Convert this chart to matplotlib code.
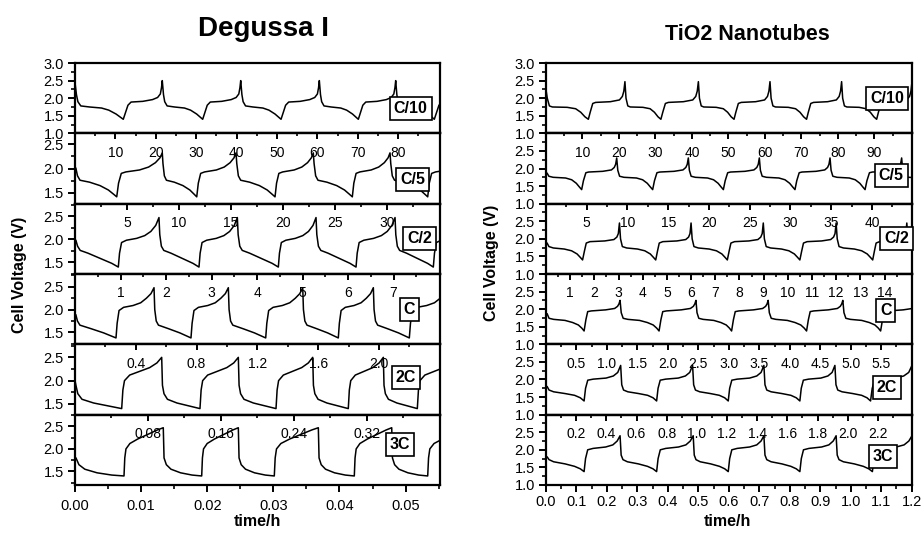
import matplotlib
matplotlib.use("Agg")
import matplotlib.pyplot as plt
from matplotlib.ticker import FormatStrFormatter, MultipleLocator

plt.rcParams["font.family"] = ["Liberation Sans", "DejaVu Sans"]

rates = ["C/10", "C/5", "C/2", "C", "2C", "3C"]

# ---------------- Degussa I ----------------
# voltage at t=0, then the turning points of each cycle (time/h)
deg_start_v = [2.44, 2.01, 1.98, 1.89, 2.00, 1.81]
deg_mins = [
    [0.00730, 0.01931, 0.03116, 0.04285, 0.05434],
    [0.00631, 0.01841, 0.03025, 0.04194, 0.05334],
    [0.00655, 0.01875, 0.03075, 0.04250, 0.05419],
    [0.00620, 0.01754, 0.02884, 0.03982, 0.05056],
    [0.00706, 0.01890, 0.03040, 0.04133, 0.05177],
    [0.00741, 0.01916, 0.03014, 0.04224, 0.05334],
]
deg_peaks = [
    [0.01320, 0.02506, 0.03695, 0.04850, 0.06019],
    [0.01320, 0.02435, 0.03604, 0.04764, 0.05929],
    [0.01270, 0.02455, 0.03645, 0.04840, 0.06004],
    [0.01195, 0.02319, 0.03444, 0.04512, 0.05641],
    [0.01311, 0.02470, 0.03595, 0.04663, 0.05747],
    [0.01335, 0.02470, 0.03680, 0.04790, 0.05974],
]
# one discharge (peak -> min) and one charge (min -> peak): (fraction of half cycle, V)
deg_discharge = [
    [(0, 2.50), (0.03, 2.10), (0.06, 1.90), (0.12, 1.78), (0.30, 1.75), (0.55, 1.72), (0.70, 1.66), (0.85, 1.55), (0.95, 1.45), (1, 1.40)],
    [(0, 2.32), (0.02, 2.10), (0.06, 1.85), (0.12, 1.76), (0.35, 1.72), (0.60, 1.65), (0.80, 1.56), (0.93, 1.47), (1, 1.42)],
    [(0, 2.47), (0.02, 2.10), (0.06, 1.85), (0.12, 1.76), (0.30, 1.70), (0.60, 1.58), (0.85, 1.48), (1, 1.40)],
    [(0, 2.48), (0.02, 2.00), (0.06, 1.75), (0.12, 1.66), (0.40, 1.58), (0.70, 1.49), (1, 1.38)],
    [(0, 2.50), (0.02, 1.90), (0.06, 1.72), (0.15, 1.60), (0.40, 1.52), (0.70, 1.46), (1, 1.40)],
    [(0, 2.47), (0.02, 1.80), (0.08, 1.65), (0.20, 1.55), (0.45, 1.47), (0.75, 1.42), (1, 1.40)],
]
deg_charge = [
    [(0, 1.40), (0.06, 1.60), (0.12, 1.80), (0.20, 1.89), (0.50, 1.91), (0.75, 1.96), (0.88, 2.02), (0.95, 2.12), (0.98, 2.30), (1, 2.50)],
    [(0, 1.42), (0.04, 1.70), (0.10, 1.90), (0.20, 1.93), (0.50, 1.97), (0.70, 2.03), (0.85, 2.12), (0.95, 2.22), (1, 2.32)],
    [(0, 1.40), (0.03, 1.70), (0.08, 1.93), (0.20, 1.98), (0.45, 2.02), (0.65, 2.08), (0.80, 2.17), (0.92, 2.30), (1, 2.47)],
    [(0, 1.38), (0.03, 1.70), (0.08, 1.98), (0.20, 2.05), (0.45, 2.09), (0.65, 2.15), (0.80, 2.25), (0.92, 2.35), (1, 2.48)],
    [(0, 1.40), (0.03, 1.80), (0.07, 2.00), (0.20, 2.12), (0.45, 2.20), (0.70, 2.28), (0.88, 2.38), (1, 2.50)],
    [(0, 1.40), (0.02, 1.80), (0.05, 2.00), (0.15, 2.12), (0.35, 2.22), (0.60, 2.32), (0.85, 2.42), (1, 2.47)],
]
# labels of the inner top scale of each panel and units of that scale per hour
deg_top = [
    [],
    ["10", "20", "30", "40", "50", "60", "70", "80"],
    ["5", "10", "15", "20", "25", "30"],
    ["1", "2", "3", "4", "5", "6", "7"],
    ["0.4", "0.8", "1.2", "1.6", "2.0"],
    ["0.08", "0.16", "0.24", "0.32"],
]
deg_top_scale = [None, 1637, 636, 145.3, 43.5, 7.25]
deg_ylim = [(1.0, 3.0), (1.28, 2.72), (1.25, 2.77), (1.24, 2.78), (1.27, 2.78), (1.2, 2.76)]
deg_box = [(0.92, 0.36), (0.925, 0.35), (0.945, 0.51), (0.916, 0.495), (0.907, 0.53), (0.89, 0.58)]

# ---------------- TiO2 nanotubes ----------------
tio_start_v = [2.24, 1.87, 1.88, 1.87, 1.80, 1.80]
tio_mins = [
    [0.139, 0.377, 0.617, 0.855, 1.085],
    [0.117, 0.350, 0.582, 0.817, 1.047, 1.283],
    [0.120, 0.360, 0.595, 0.833, 1.072, 1.303],
    [0.125, 0.371, 0.609, 0.855, 1.098],
    [0.125, 0.363, 0.598, 0.833, 1.065],
    [0.125, 0.363, 0.598, 0.833, 1.071],
]
tio_peaks = [
    [0.259, 0.500, 0.735, 0.970, 1.201],
    [0.232, 0.467, 0.700, 0.932, 1.167],
    [0.241, 0.476, 0.713, 0.952, 1.184],
    [0.243, 0.492, 0.729, 0.974, 1.221],
    [0.245, 0.481, 0.715, 0.948, 1.201],
    [0.243, 0.483, 0.715, 0.952, 1.201],
]
tio_discharge = [
    [(0, 2.47), (0.03, 2.00), (0.08, 1.78), (0.15, 1.75), (0.50, 1.74), (0.70, 1.70), (0.82, 1.60), (0.92, 1.47), (1, 1.40)],
    [(0, 2.30), (0.03, 1.95), (0.08, 1.78), (0.20, 1.75), (0.55, 1.73), (0.72, 1.68), (0.85, 1.58), (0.94, 1.47), (1, 1.40)],
    [(0, 2.45), (0.03, 2.00), (0.08, 1.78), (0.20, 1.74), (0.50, 1.71), (0.70, 1.66), (0.85, 1.57), (0.94, 1.47), (1, 1.40)],
    [(0, 2.25), (0.03, 1.90), (0.08, 1.74), (0.20, 1.71), (0.50, 1.68), (0.70, 1.62), (0.85, 1.55), (0.94, 1.46), (1, 1.38)],
    [(0, 2.40), (0.03, 1.85), (0.08, 1.70), (0.20, 1.65), (0.50, 1.60), (0.75, 1.55), (0.90, 1.48), (1, 1.39)],
    [(0, 2.40), (0.03, 1.85), (0.08, 1.72), (0.20, 1.66), (0.50, 1.60), (0.75, 1.53), (0.90, 1.46), (1, 1.38)],
]
tio_charge = [
    [(0, 1.40), (0.05, 1.60), (0.12, 1.85), (0.20, 1.88), (0.60, 1.90), (0.85, 1.95), (0.93, 2.05), (0.97, 2.20), (1, 2.47)],
    [(0, 1.40), (0.05, 1.65), (0.12, 1.88), (0.20, 1.90), (0.60, 1.92), (0.85, 1.96), (0.93, 2.03), (0.97, 2.12), (1, 2.30)],
    [(0, 1.40), (0.05, 1.65), (0.10, 1.88), (0.20, 1.92), (0.60, 1.94), (0.85, 1.98), (0.93, 2.05), (0.97, 2.15), (1, 2.45)],
    [(0, 1.38), (0.05, 1.70), (0.10, 1.93), (0.20, 1.95), (0.60, 1.98), (0.85, 2.02), (0.93, 2.08), (0.97, 2.15), (1, 2.25)],
    [(0, 1.39), (0.04, 1.75), (0.10, 1.98), (0.25, 2.01), (0.60, 2.04), (0.80, 2.10), (0.92, 2.20), (1, 2.40)],
    [(0, 1.38), (0.04, 1.75), (0.10, 2.00), (0.25, 2.04), (0.60, 2.08), (0.80, 2.14), (0.92, 2.25), (1, 2.40)],
]
tio_top = [
    [],
    ["10", "20", "30", "40", "50", "60", "70", "80", "90"],
    ["5", "10", "15", "20", "25", "30", "35", "40"],
    ["1", "2", "3", "4", "5", "6", "7", "8", "9", "10", "11", "12", "13", "14"],
    ["0.5", "1.0", "1.5", "2.0", "2.5", "3.0", "3.5", "4.0", "4.5", "5.0", "5.5"],
    ["0.2", "0.4", "0.6", "0.8", "1.0", "1.2", "1.4", "1.6", "1.8", "2.0", "2.2"],
]
tio_top_scale = [None, 83.5, 37.4, 12.6, 5.0, 2.02]
tio_ylim = [(1.0, 3.0)] * 6
tio_box = [(0.932, 0.50), (0.944, 0.40), (0.958, 0.50), (0.929, 0.475), (0.932, 0.39), (0.922, 0.40)]


def build_curve(start_v, mins, peaks, discharge, charge):
    ts, vs = [0.0], [start_v]
    t_prev = 0.0
    for i, t_min in enumerate(mins):
        dur = t_min - t_prev
        for f, v in discharge[1:]:
            if i == 0:
                v = min(v, start_v)
            ts.append(t_prev + f * dur)
            vs.append(v)
        if i < len(peaks):
            dur = peaks[i] - t_min
            for f, v in charge[1:]:
                ts.append(t_min + f * dur)
                vs.append(v)
            t_prev = peaks[i]
    return ts, vs


def draw_column(fig, left, width, data, xlim, xstep, xfmt, xpad):
    start_v, mins, peaks, dis, chg, top, scale, ylims, boxes = data
    gs = fig.add_gridspec(6, 1, left=left, right=left + width, top=0.8822, bottom=0.0935, hspace=0)
    for i in range(6):
        ax = fig.add_subplot(gs[i])
        ts, vs = build_curve(start_v[i], mins[i], peaks[i], dis[i], chg[i])
        ax.plot(ts, vs, color="black", lw=1.1, zorder=2)
        ax.set_xlim(*xlim)
        ax.set_ylim(*ylims[i])
        for sp in ax.spines.values():
            sp.set_linewidth(1.6)

        if ylims[i][0] <= 1.0:
            yt = [1.0, 1.5, 2.0, 2.5, 3.0] if i == 0 else [1.0, 1.5, 2.0, 2.5]
        else:
            yt = [1.5, 2.0, 2.5]
        ax.set_yticks(yt)
        ax.yaxis.set_major_formatter(FormatStrFormatter("%.1f"))
        ax.yaxis.set_minor_locator(MultipleLocator(0.25))
        ax.tick_params(axis="y", which="major", direction="out", length=5, width=1.4,
                       labelsize=10.5, pad=3)
        ax.tick_params(axis="y", which="minor", direction="out", length=3, width=1.2)

        if i < 5:
            ax.tick_params(axis="x", which="both", bottom=False, labelbottom=False)
        else:
            ax.xaxis.set_major_locator(MultipleLocator(xstep))
            ax.xaxis.set_minor_locator(MultipleLocator(xstep / 2))
            ax.xaxis.set_major_formatter(FormatStrFormatter(xfmt))
            ax.tick_params(axis="x", which="major", direction="out", length=5, width=1.4,
                           labelsize=10.5, pad=xpad)
            ax.tick_params(axis="x", which="minor", direction="out", length=3, width=1.2)

        if top[i]:
            s = scale[i]
            sec = ax.secondary_xaxis("top", functions=(lambda t, s=s: t * s, lambda v, s=s: v / s))
            vals = [float(v) for v in top[i]]
            step = vals[1] - vals[0]
            minors = [v - step / 2 for v in vals] + [vals[-1] + step / 2]
            sec.set_xticks(vals, labels=top[i])
            sec.set_xticks(minors, minor=True)
            sec.tick_params(axis="x", which="major", direction="in", length=4, width=1.4,
                            labelsize=10, pad=-19)
            sec.tick_params(axis="x", which="minor", direction="in", length=2.5, width=1.2)
            sec.spines["top"].set_linewidth(1.6)

        bx, by = boxes[i]
        ax.text(bx, by, rates[i], transform=ax.transAxes, ha="center", va="center",
                fontsize=11.5, fontweight="bold", zorder=5,
                bbox=dict(boxstyle="square,pad=0.25", fc="white", ec="black", lw=1.2))


fig = plt.figure(figsize=(9.23, 5.35), dpi=100)
fig.patch.set_facecolor("white")

deg = (deg_start_v, deg_mins, deg_peaks, deg_discharge, deg_charge, deg_top, deg_top_scale, deg_ylim, deg_box)
tio = (tio_start_v, tio_mins, tio_peaks, tio_discharge, tio_charge, tio_top, tio_top_scale, tio_ylim, tio_box)

draw_column(fig, 75 / 923, 365 / 923, deg, (0, 0.0552), 0.01, "%.2f", 5)
draw_column(fig, 546 / 923, 365.7 / 923, tio, (0, 1.2), 0.1, "%.1f", 2)

fig.text(263 / 923, 1 - 36 / 535, "Degussa I", ha="center", va="baseline", fontsize=20, fontweight="bold")
fig.text(747 / 923, 1 - 40 / 535, "TiO2 Nanotubes", ha="center", va="baseline", fontsize=15.5, fontweight="bold")

fig.text(20 / 923, 1 - 275 / 535, "Cell Voltage (V)", rotation=90, ha="center", va="center",
         fontsize=11.5, fontweight="bold")
fig.text(491 / 923, 1 - 263 / 535, "Cell Voltage (V)", rotation=90, ha="center", va="center",
         fontsize=11.5, fontweight="bold")
fig.text(257 / 923, 1 - 522 / 535, "time/h", ha="center", va="center", fontsize=11.5, fontweight="bold")
fig.text(727 / 923, 1 - 522 / 535, "time/h", ha="center", va="center", fontsize=11.5, fontweight="bold")

fig.savefig("out.png", dpi=100)
